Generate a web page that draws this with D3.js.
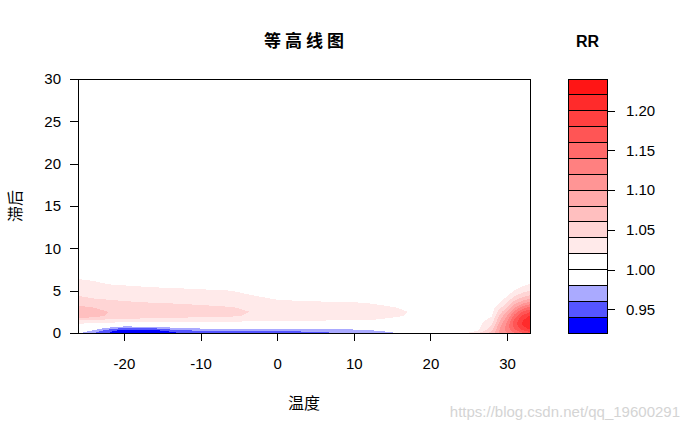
<!DOCTYPE html>
<html><head><meta charset="utf-8">
<script src="https://cdn.jsdelivr.net/npm/d3@7"></script>
<style>body{margin:0;background:#fff;} svg{display:block;}</style>
</head><body><svg id="c" width="686" height="431"></svg>
<script>
// ---------- data ----------
const tempGrid = [-26, -24, -22, -20, -18, -16, -14, -12, -9, -6, -3, 0, 3, 6, 9, 12, 15, 18, 21, 24, 26, 28, 29, 30, 31, 32, 33];
const lagGrid = [0, 0.25, 0.5, 0.75, 1, 1.25, 1.5, 2, 2.5, 3, 3.5, 4, 4.5, 5, 5.5, 6, 7, 8, 10, 30];
// RR for each temperature (one column per entry of tempGrid), values over lagGrid
const rrByTemp = [
  [0.985, 0.995, 1.005, 1.012, 1.017, 1.025, 1.040, 1.082, 1.075, 1.065, 1.055, 1.047, 1.038, 1.032, 1.027, 1.023, 1.015, 1.010, 1.005, 1.000],
  [0.962, 0.975, 0.990, 1.000, 1.012, 1.024, 1.038, 1.068, 1.068, 1.060, 1.051, 1.041, 1.035, 1.030, 1.025, 1.021, 1.014, 1.009, 1.004, 1.000],
  [0.940, 0.945, 0.968, 0.990, 1.007, 1.021, 1.035, 1.057, 1.060, 1.054, 1.046, 1.039, 1.033, 1.028, 1.022, 1.018, 1.013, 1.009, 1.004, 1.000],
  [0.925, 0.930, 0.950, 0.978, 1.000, 1.020, 1.033, 1.053, 1.057, 1.051, 1.044, 1.037, 1.031, 1.026, 1.021, 1.017, 1.012, 1.008, 1.004, 1.000],
  [0.922, 0.928, 0.948, 0.979, 1.000, 1.019, 1.032, 1.051, 1.055, 1.049, 1.042, 1.035, 1.030, 1.025, 1.020, 1.016, 1.011, 1.007, 1.003, 1.000],
  [0.925, 0.930, 0.955, 0.980, 1.000, 1.019, 1.031, 1.050, 1.053, 1.047, 1.041, 1.034, 1.029, 1.024, 1.019, 1.015, 1.011, 1.007, 1.003, 1.000],
  [0.932, 0.945, 0.968, 0.988, 1.003, 1.018, 1.030, 1.048, 1.052, 1.046, 1.040, 1.033, 1.028, 1.023, 1.018, 1.015, 1.010, 1.006, 1.003, 1.000],
  [0.945, 0.955, 0.975, 0.990, 1.004, 1.017, 1.029, 1.046, 1.050, 1.045, 1.039, 1.032, 1.027, 1.022, 1.018, 1.014, 1.010, 1.006, 1.003, 1.000],
  [0.950, 0.960, 0.980, 0.993, 1.005, 1.017, 1.028, 1.044, 1.047, 1.043, 1.037, 1.031, 1.026, 1.021, 1.017, 1.014, 1.010, 1.006, 1.003, 1.000],
  [0.952, 0.961, 0.981, 0.994, 1.005, 1.016, 1.027, 1.042, 1.044, 1.041, 1.035, 1.030, 1.025, 1.020, 1.016, 1.013, 1.009, 1.006, 1.003, 1.000],
  [0.953, 0.962, 0.981, 0.994, 1.005, 1.015, 1.025, 1.037, 1.039, 1.036, 1.031, 1.025, 1.019, 1.016, 1.014, 1.011, 1.008, 1.005, 1.003, 1.000],
  [0.954, 0.962, 0.980, 0.993, 1.003, 1.012, 1.021, 1.033, 1.035, 1.032, 1.027, 1.019, 1.015, 1.012, 1.010, 1.008, 1.006, 1.004, 1.002, 1.000],
  [0.955, 0.962, 0.980, 0.993, 1.003, 1.012, 1.021, 1.031, 1.033, 1.030, 1.024, 1.017, 1.013, 1.010, 1.008, 1.007, 1.005, 1.003, 1.002, 1.000],
  [0.957, 0.964, 0.981, 0.993, 1.003, 1.012, 1.021, 1.030, 1.032, 1.029, 1.023, 1.016, 1.012, 1.010, 1.008, 1.006, 1.004, 1.003, 1.002, 1.000],
  [0.962, 0.968, 0.983, 0.994, 1.004, 1.012, 1.020, 1.029, 1.031, 1.028, 1.023, 1.016, 1.012, 1.009, 1.007, 1.006, 1.004, 1.003, 1.002, 1.000],
  [0.970, 0.976, 0.988, 0.997, 1.005, 1.012, 1.020, 1.027, 1.029, 1.026, 1.020, 1.015, 1.011, 1.008, 1.006, 1.005, 1.004, 1.003, 1.002, 1.000],
  [0.978, 0.985, 0.993, 0.999, 1.004, 1.009, 1.015, 1.023, 1.024, 1.021, 1.016, 1.012, 1.009, 1.007, 1.005, 1.004, 1.003, 1.002, 1.001, 1.000],
  [0.985, 0.990, 0.995, 0.999, 1.003, 1.006, 1.010, 1.017, 1.018, 1.016, 1.012, 1.009, 1.007, 1.005, 1.004, 1.003, 1.002, 1.002, 1.001, 1.000],
  [0.995, 0.997, 0.999, 1.000, 1.002, 1.003, 1.005, 1.008, 1.009, 1.008, 1.006, 1.005, 1.004, 1.003, 1.002, 1.002, 1.001, 1.001, 1.000, 1.000],
  [1.012, 1.010, 1.008, 1.007, 1.007, 1.007, 1.007, 1.007, 1.006, 1.006, 1.005, 1.004, 1.003, 1.003, 1.002, 1.002, 1.001, 1.001, 1.000, 1.000],
  [1.035, 1.018, 1.012, 1.010, 1.010, 1.010, 1.010, 1.009, 1.008, 1.007, 1.006, 1.005, 1.004, 1.004, 1.003, 1.003, 1.002, 1.001, 1.000, 1.000],
  [1.070, 1.058, 1.050, 1.044, 1.038, 1.033, 1.027, 1.019, 1.014, 1.011, 1.009, 1.007, 1.006, 1.005, 1.004, 1.003, 1.002, 1.001, 1.000, 1.000],
  [1.100, 1.100, 1.098, 1.093, 1.087, 1.080, 1.074, 1.063, 1.049, 1.033, 1.020, 1.012, 1.008, 1.006, 1.005, 1.004, 1.003, 1.002, 1.001, 1.000],
  [1.120, 1.125, 1.128, 1.128, 1.126, 1.122, 1.116, 1.100, 1.080, 1.060, 1.042, 1.027, 1.016, 1.010, 1.007, 1.005, 1.003, 1.002, 1.001, 1.000],
  [1.140, 1.152, 1.162, 1.168, 1.170, 1.170, 1.165, 1.150, 1.127, 1.100, 1.075, 1.053, 1.035, 1.021, 1.013, 1.008, 1.004, 1.002, 1.001, 1.000],
  [1.158, 1.175, 1.187, 1.195, 1.200, 1.200, 1.198, 1.185, 1.160, 1.130, 1.097, 1.070, 1.048, 1.032, 1.020, 1.012, 1.005, 1.002, 1.001, 1.000],
  [1.170, 1.190, 1.205, 1.213, 1.218, 1.220, 1.217, 1.203, 1.178, 1.147, 1.112, 1.082, 1.058, 1.040, 1.026, 1.016, 1.007, 1.003, 1.001, 1.000]
];
const levels = [0.92, 0.94, 0.96, 0.98, 1.00, 1.02, 1.04, 1.06, 1.08, 1.10, 1.12, 1.14, 1.16, 1.18, 1.20, 1.22, 1.24];
const bandColors = ["#0000FF", "#5555FF", "#AAAAFF", "#FFFFFF", "#FFFFFF", "#FFEAEA", "#FFD5D5", "#FFBFBF",
                    "#FFAAAA", "#FF9595", "#FF8080", "#FF6A6A", "#FF5555", "#FF4040", "#FF2B2B", "#FF1515"];
const xTicks = [-20, -10, 0, 10, 20, 30];
const yTicks = [0, 5, 10, 15, 20, 25, 30];
const legendTicks = [0.95, 1.00, 1.05, 1.10, 1.15, 1.20];
const titleText = "等高线图";
const xLabelText = "温度";
const yLabelText = "滞后";
const legendTitle = "RR";
const watermark = "https://blog.csdn.net/qq_19600291";

// ---------- layout ----------
const LATIN = "'Liberation Sans', Arial, sans-serif";
const CJK = "'Noto Sans CJK SC', 'Noto Sans', sans-serif";
const svg = d3.select("#c");
const P = {left: 78, right: 530, top: 79, bottom: 333};
const L = {left: 568, right: 607};

const x = d3.scaleLinear().domain(d3.extent(tempGrid)).range([P.left, P.right]);
const y = d3.scaleLinear().domain([0, 30]).range([P.bottom, P.top]);

// grid index -> data value (piecewise linear, non-uniform grid)
const n = tempGrid.length, m = lagGrid.length;
const idxT = d3.scaleLinear().domain(d3.range(n)).range(tempGrid).clamp(true);
const idxL = d3.scaleLinear().domain(d3.range(m)).range(lagGrid).clamp(true);

const values = new Array(n * m);
for (let j = 0; j < m; j++) for (let i = 0; i < n; i++) values[j * n + i] = rrByTemp[i][j];

const contours = d3.contours().size([n, m]).thresholds(levels.slice(0, -1))(values);
const proj = d3.geoTransform({
  point: function(u, v) {
    const ti = Math.max(0, Math.min(n - 1, u - 0.5));
    const li = Math.max(0, Math.min(m - 1, v - 0.5));
    this.stream.point(x(idxT(ti)), y(idxL(li)));
  }
});
const path = d3.geoPath(proj);

svg.append("defs").append("clipPath").attr("id", "clip")
  .append("rect").attr("x", P.left).attr("y", P.top)
  .attr("width", P.right - P.left).attr("height", P.bottom - P.top);

svg.append("g").attr("clip-path", "url(#clip)")
  .selectAll("path").data(contours).join("path")
  .attr("d", path)
  .attr("fill", d => bandColors[levels.indexOf(d.value)])
  .attr("stroke", "none")
  .attr("shape-rendering", "crispEdges");

// frame
svg.append("rect").attr("x", P.left).attr("y", P.top)
  .attr("width", P.right - P.left).attr("height", P.bottom - P.top)
  .attr("fill", "none").attr("stroke", "#000").attr("stroke-width", 1)
  .attr("shape-rendering", "crispEdges");

// axes
const xAxis = svg.append("g").attr("transform", `translate(0,${P.bottom})`)
  .call(d3.axisBottom(x).tickValues(xTicks).tickSize(8).tickSizeOuter(0).tickPadding(17).tickFormat(d3.format("d")));
const yAxis = svg.append("g").attr("transform", `translate(${P.left},0)`)
  .call(d3.axisLeft(y).tickValues(yTicks).tickSize(8).tickSizeOuter(0).tickPadding(9).tickFormat(d3.format("d")));
[xAxis, yAxis].forEach(a => {
  a.select(".domain").remove();
  a.selectAll("line").attr("stroke", "#000").attr("shape-rendering", "crispEdges");
  a.selectAll("text").attr("fill", "#000").style("font-family", LATIN).style("font-size", "15px");
});
xAxis.selectAll("text").text(d => d < 0 ? "-" + Math.abs(d) : d);

// titles
svg.append("text").attr("x", (P.left + P.right) / 2 + 2).attr("y", 47)
  .attr("text-anchor", "middle").style("font-family", CJK).style("font-weight", "bold")
  .style("font-size", "17px").style("letter-spacing", "4px").text(titleText);
svg.append("text").attr("x", (P.left + P.right) / 2).attr("y", 402)
  .attr("text-anchor", "middle").attr("dominant-baseline", "central")
  .style("font-family", CJK).style("font-size", "16px").text(xLabelText);
svg.append("text").attr("transform", "translate(14,206) rotate(-90)")
  .attr("text-anchor", "middle").attr("dominant-baseline", "central")
  .style("font-family", CJK).style("font-size", "16px").text(yLabelText);

// legend
const ly = d3.scaleLinear().domain([levels[0], levels[levels.length - 1]]).range([P.bottom, P.top]);
svg.append("g").selectAll("rect").data(bandColors).join("rect")
  .attr("x", L.left).attr("width", L.right - L.left)
  .attr("y", (c, k) => ly(levels[k + 1]))
  .attr("height", (c, k) => ly(levels[k]) - ly(levels[k + 1]))
  .attr("fill", c => c).attr("stroke", "#000").attr("stroke-width", 1)
  .attr("shape-rendering", "crispEdges");
const lAxis = svg.append("g").attr("transform", `translate(${L.right},0)`)
  .call(d3.axisRight(ly).tickValues(legendTicks).tickSize(8).tickSizeOuter(0).tickPadding(11).tickFormat(d3.format(".2f")));
lAxis.select(".domain").remove();
lAxis.selectAll("line").attr("stroke", "#000").attr("shape-rendering", "crispEdges");
lAxis.selectAll("text").attr("fill", "#000").style("font-family", LATIN).style("font-size", "15px");

svg.append("text").attr("x", (L.left + L.right) / 2).attr("y", 47)
  .attr("text-anchor", "middle").style("font-family", LATIN).style("font-weight", "bold")
  .style("font-size", "16px").text(legendTitle);

// watermark
svg.append("text").attr("x", 680).attr("y", 417).attr("text-anchor", "end")
  .style("font-family", LATIN).style("font-size", "15px").attr("fill", "#d4d4d4").text(watermark);
</script>
</body></html>
